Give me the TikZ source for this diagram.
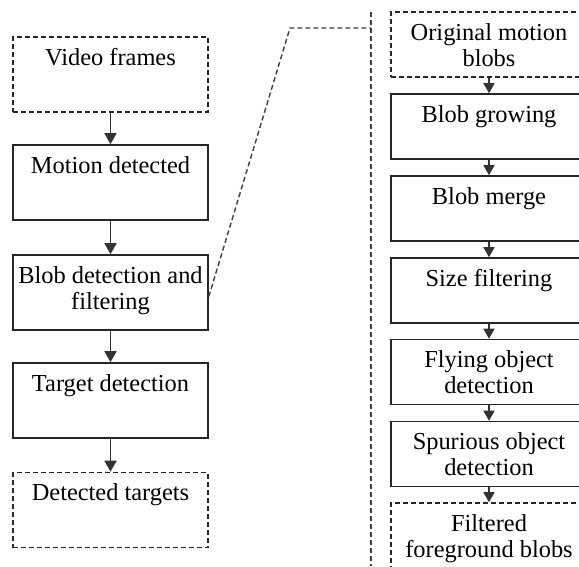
\documentclass[tikz,border=0pt]{standalone}
\usepackage{fontspec}
\setmainfont{Liberation Serif}
\usetikzlibrary{arrows.meta}
\begin{document}
\begin{tikzpicture}[x=1pt,y=-1pt,
  box/.style={draw=black!85,line width=1.6pt,minimum width=195pt,minimum height=75pt,inner sep=0pt},
  rbox/.style={box,minimum width=196pt,minimum height=65pt},
  dbox/.style={dash pattern=on 5pt off 3pt},
  lbl/.style={anchor=north,inner sep=0pt,align=center,font=\fontsize{24.4}{26}\selectfont},
  arr/.style={draw=black!80,line width=1.6pt,-{Triangle[length=11pt,width=12pt]}},
  rarr/.style={draw=black!80,line width=1.6pt,-{Triangle[length=10pt,width=11pt]}},
  guide/.style={draw=black!75,line width=1.4pt,dash pattern=on 5pt off 3pt}]
\useasboundingbox (0,0) rectangle (579,566);
\clip (0,0) rectangle (579,566);
\fill[white] (0,0) rectangle (579,566);
% left column
\node[box,dbox] (vf) at (110.5,74.5) {};
\node[box] (md) at (110.5,182.5) {};
\node[box] (bd) at (110.5,292.5) {};
\node[box] (td) at (110.5,400.5) {};
\node[box,dbox] (dt) at (110.5,510) {};
\node[lbl] at ([yshift=-12pt]vf.north) {Video frames};
\node[lbl] at ([yshift=-12pt]md.north) {Motion detected};
\node[lbl] at ([yshift=-12pt]bd.north) {Blob detection and\\filtering};
\node[lbl] at ([yshift=-12pt]td.north) {Target detection};
\node[lbl] at ([yshift=-12pt]dt.north) {Detected targets};
\draw[arr] (vf) -- (md);
\draw[arr] (md) -- (bd);
\draw[arr] (bd) -- (td);
\draw[arr] (td) -- (dt);
% right column
\node[rbox,dbox] (om) at (489,44.5) {};
\node[rbox] (bg) at (489,126.5) {};
\node[rbox] (bm) at (489,208.5) {};
\node[rbox] (sf) at (489,290.5) {};
\node[rbox] (fo) at (489,372) {};
\node[rbox] (so) at (489,454) {};
\node[rbox,dbox] (ff) at (489,535.5) {};
\node[lbl] at ([yshift=-12pt]om.north) {Original motion\\blobs};
\node[lbl] at ([yshift=-12pt]bg.north) {Blob growing};
\node[lbl] at ([yshift=-12pt]bm.north) {Blob merge};
\node[lbl] at ([yshift=-12pt]sf.north) {Size filtering};
\node[lbl] at ([yshift=-12pt]fo.north) {Flying object\\detection};
\node[lbl] at ([yshift=-12pt]so.north) {Spurious object\\detection};
\node[lbl] at ([yshift=-12pt]ff.north) {Filtered\\foreground blobs};
\draw[rarr] (om) -- (bg);
\draw[rarr] (bg) -- (bm);
\draw[rarr] (bm) -- (sf);
\draw[rarr] (sf) -- (fo);
\draw[rarr] (fo) -- (so);
\draw[rarr] (so) -- (ff);
% zoom guide
\coordinate (gs) at ([yshift=-4pt]bd.east);
\coordinate (gk) at (290,28);
\coordinate (gt) at (371,12);
\coordinate (gb) at (371,566);
\draw[guide] (gs) -- (gk) -- (gt |- gk);
\draw[guide] (gt) -- (gb);
\end{tikzpicture}
\end{document}
